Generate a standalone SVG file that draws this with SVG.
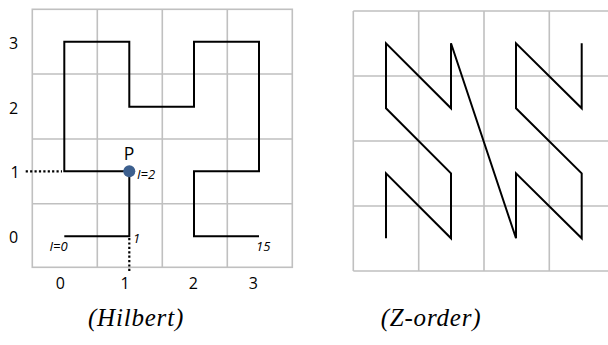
<svg xmlns="http://www.w3.org/2000/svg" width="608" height="345" viewBox="0 0 608 345">
<style>
.grid{stroke:#c0c0c0;stroke-width:1.6;fill:none}
.curve{stroke:#000;stroke-width:2;fill:none;stroke-linejoin:miter}
.dot{stroke:#000;stroke-width:2.2;stroke-dasharray:2.2 2.2;fill:none}
.lbl{font-family:"Open Sans","Liberation Sans",sans-serif;font-size:16px;fill:#000;text-anchor:middle}
.sm{font-family:"Open Sans","Liberation Sans",sans-serif;font-size:13px;font-style:italic;fill:#000}
.cap{font-family:"Liberation Serif",serif;font-size:25px;font-style:italic;fill:#000;text-anchor:middle;letter-spacing:0.8px}
</style>
<rect width="608" height="345" fill="#fff"/>
<g id="hilbert-grid" class="grid">
<rect x="32.3" y="9.3" width="260" height="258"/>
<path d="M97.3 9.3V267.3M162.3 9.3V267.3M227.3 9.3V267.3M32.3 74H292.3M32.3 139H292.3M32.3 203.7H292.3"/>
</g>
<g id="zorder-grid" class="grid">
<path d="M353.3 11V271M418.7 11V271M484 11V271M549.3 11V271M353.3 11H620M353.3 76H620M353.3 141H620M353.3 206H620M353.3 271H620"/>
</g>
<g id="connectors">
<path class="curve" d="M64.3 236.3H129.3V171.3H64.3V41.7H129.3V106.7H194V41.7H259V171.3H194V236.3H259"/>
<path class="dot" d="M25.7 171.3H62M129.3 238V272"/>
<path class="curve" d="M386 238.3V173.3L451 238.3V173.3L386 108.3V43.3L451 108.3V43.3L516 238.3V173.3L581.7 238.3V173.3L516 108.3V43.3L581.7 108.3V43.3"/>
</g>
<g id="P">
<circle cx="129.3" cy="171.3" r="6" fill="#3c5f8e"/>
<text class="lbl" x="129" y="160" style="font-size:17.5px">P</text>
<text class="sm" x="137" y="179">I=2</text>
</g>
<g id="labels">
<text class="lbl" x="13.5" y="49">3</text>
<text class="lbl" x="13.5" y="114">2</text>
<text class="lbl" x="15" y="178">1</text>
<text class="lbl" x="13.5" y="243">0</text>
<text class="lbl" x="60.3" y="289">0</text>
<text class="lbl" x="125" y="289">1</text>
<text class="lbl" x="193.3" y="289">2</text>
<text class="lbl" x="253.3" y="289">3</text>
<text class="sm" x="49.5" y="251">I=0</text>
<text class="sm" x="133" y="242.5">1</text>
<text class="sm" x="256" y="251">15</text>
</g>
<g id="captions">
<text class="cap" x="136" y="326">(Hilbert)</text>
<text class="cap" x="431" y="326">(Z-order)</text>
</g>
</svg>
